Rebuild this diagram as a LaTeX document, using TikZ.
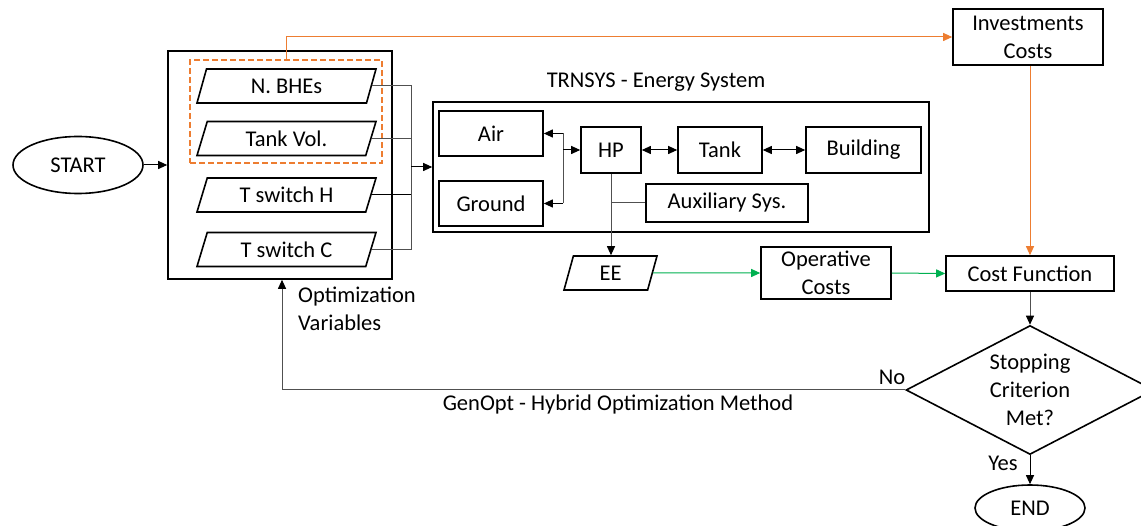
\documentclass[tikz,border=0pt]{standalone}
\usepackage{fontspec}
\setmainfont{Carlito}
\usetikzlibrary{shapes.geometric,arrows.meta}
\definecolor{myorange}{HTML}{ED7D31}
\definecolor{mygreen}{HTML}{00B050}
\definecolor{busgray}{HTML}{505050}
\begin{document}
\begin{tikzpicture}[x=1pt,y=-1pt,
  font=\fontsize{22.5}{28}\selectfont,
  box/.style={draw,line width=1.6pt,inner sep=0pt,align=center},
  para/.style={draw,line width=1.6pt,trapezium,trapezium left angle=57,trapezium right angle=123,trapezium stretches body,minimum width=179pt,minimum height=34pt,inner sep=0pt},
  oval/.style={draw,line width=1.6pt,ellipse,inner sep=0pt},
  tip/.style={-{Triangle[length=9pt,width=8pt]}},
  arr/.style={tip,line width=1pt},
  garrow/.style={-{Triangle[length=9pt,width=8pt,color=black]},line width=1pt,busgray},
  darr/.style={{Triangle[length=9pt,width=8pt]}-{Triangle[length=9pt,width=8pt]},line width=1pt},
  conn/.style={line width=1pt},
  oarr/.style={tip,line width=1pt,myorange},
  garr/.style={tip,line width=1pt,mygreen},
  lbl/.style={inner sep=0pt,align=center}]
\useasboundingbox (0,0) rectangle (1141,526);

% start and optimisation variables
\node[oval,minimum width=130pt,minimum height=57pt] (start) at (78,165) {START};
\node[box,minimum width=224pt,minimum height=228pt] (optbox) at (280,165) {};
\node[draw,myorange,dash pattern=on 6pt off 3pt,line width=1.5pt,minimum width=192pt,minimum height=103pt,inner sep=0pt] (dash) at (286,111.5) {};
\node[para] (p1) at (286.5,86) {N. BHEs};
\node[para] (p2) at (286.5,138.5) {Tank Vol.};
\node[para] (p3) at (286.5,195) {T switch H};
\node[para] (p4) at (286.5,249.5) {T switch C};
\coordinate (bus) at (411,165);
\node[lbl,anchor=west,align=left] (optlbl) at (298,309) {Optimization\\Variables};

% TRNSYS
\node[box,minimum width=496pt,minimum height=130pt] (trn) at (681,167) {};
\node[lbl] (trnlbl) at (656,82) {TRNSYS - Energy System};
\node[box,minimum width=104pt,minimum height=45pt] (air) at (491,133.5) {Air};
\node[box,minimum width=104pt,minimum height=45pt] (ground) at (491,203.5) {Ground};
\node[box,minimum width=60pt,minimum height=46pt] (hp) at (611,150) {HP};
\node[box,minimum width=84pt,minimum height=46pt] (tank) at (720,150) {Tank};
\node[box,minimum width=115pt,minimum height=46pt] (bld) at (863.5,150) {Building};
\node[box,minimum width=162pt,minimum height=38pt] (aux) at (727,203) {Auxiliary Sys.};
\coordinate (j) at (563,150);

% costs
\node[para,minimum width=93pt] (ee) at (610.5,273) {EE};
\node[box,minimum width=130pt,minimum height=52pt] (op) at (826,273) {Operative\\Costs};
\node[box,minimum width=168pt,minimum height=35pt] (cf) at (1030,273.5) {Cost Function};
\node[box,minimum width=150pt,minimum height=56pt] (inv) at (1028,37) {Investments\\Costs};

% decision
\node[draw,line width=1.6pt,diamond,minimum width=248pt,minimum height=129pt,inner sep=0pt] (dec) at (1030,390) {};
\node[lbl] (dectxt) at (1030,390) {Stopping\\Criterion\\Met?};
\node[oval,minimum width=110pt,minimum height=46pt] (end) at (1030,508) {END};
\node[lbl] (no) at (892,377) {No};
\node[lbl] (yes) at (1003,463) {Yes};
\node[lbl] (gen) at (618,405) {GenOpt - Hybrid Optimization Method};
\coordinate (fb) at (282,390);

% connectors
\draw[arr] (start.east) -- (optbox.west);
\draw[conn,busgray] (p1.east) -- (p1.east -| bus) -- (p4.east -| bus) -- (p4.east);
\draw[conn,busgray] (p2.east) -- (p2.east -| bus);
\draw[conn] (p3.east) -- (p3.east -| bus);
\draw[arr] (bus |- trn.west) -- (trn.west);
\draw[oarr] (dash.north) |- (inv.west);
\draw[conn,busgray] (j |- air.east) -- (j |- ground.east);
\draw[arr] (j |- air.east) -- (air.east);
\draw[arr] (j |- ground.east) -- (ground.east);
\draw[arr] (j) -- (hp.west);
\draw[darr] (hp.east) -- (tank.west);
\draw[darr] (tank.east) -- (bld.west);
\draw[garrow] (hp.south) -- (hp.south |- ee.north);
\draw[conn,busgray] (hp.south |- aux.west) -- (aux.west);
\draw[garr] (ee.east) -- (op.west);
\draw[garr] (op.east) -- (cf.west);
\draw[oarr] (inv.south -| cf.north) -- (cf.north);
\draw[garrow] (cf.south) -- (dec.north);
\draw[arr] (dec.south) -- (end.north);
\draw[garrow] (dec.west) -- (fb) -- (fb |- optbox.south);
\end{tikzpicture}
\end{document}
